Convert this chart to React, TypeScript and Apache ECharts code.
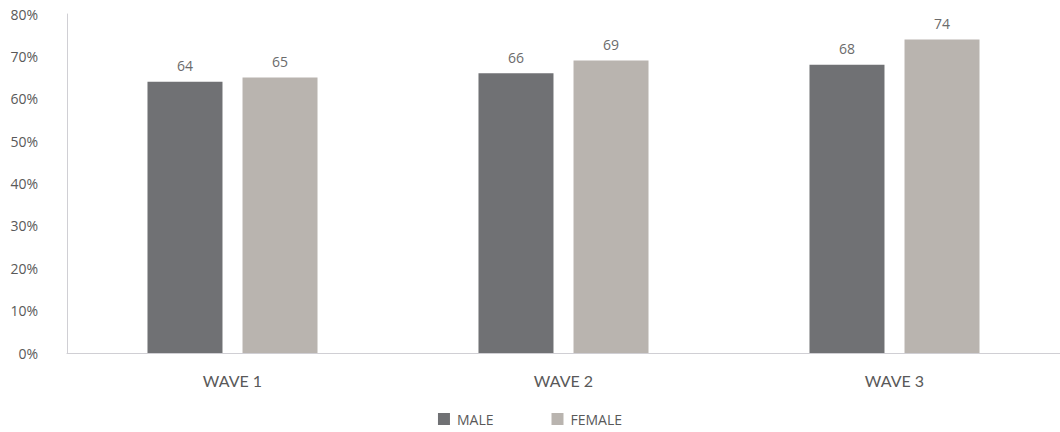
import React, { useEffect, useRef } from "react";
import * as echarts from "echarts";

const waves = ["WAVE 1", "WAVE 2", "WAVE 3"];
const male = [64, 66, 68];
const female = [65, 69, 74];
const yTicks = [0, 10, 20, 30, 40, 50, 60, 70, 80];

const MALE_COLOR = "#707174";
const FEMALE_COLOR = "#B9B4AF";
const TEXT = "#595959";

export default function App() {
  const ref = useRef<HTMLDivElement>(null);

  useEffect(() => {
    if (!ref.current) return;
    const chart = echarts.init(ref.current, null, { renderer: "svg" });
    const label = {
      show: true,
      position: "top" as const,
      distance: 9,
      color: "#6b6b6b",
      fontFamily: "Open Sans",
      fontSize: 14,
    };
    chart.setOption({
      animation: false,
      grid: { left: 67, top: 14, width: 995, bottom: 79 },
      legend: {
        bottom: 1,
        left: "center",
        itemWidth: 12,
        itemHeight: 12,
        itemGap: 58,
        icon: "rect",
        textStyle: { color: TEXT, fontFamily: "Open Sans", fontSize: 14, padding: [0, 0, 0, 2] },
        data: ["MALE", "FEMALE"],
      },
      xAxis: {
        type: "category",
        data: waves,
        axisLine: { lineStyle: { color: "#D0CFD4", width: 1 } },
        axisTick: { show: false },
        axisLabel: { color: TEXT, fontFamily: "Lato", fontSize: 16, margin: 19 },
      },
      yAxis: {
        type: "value",
        min: yTicks[0],
        max: yTicks[yTicks.length - 1],
        interval: 10,
        axisLine: { show: true, lineStyle: { color: "#D0CFD4", width: 1 } },
        axisTick: { show: false },
        splitLine: { show: false },
        axisLabel: {
          color: TEXT,
          fontFamily: "Open Sans",
          fontSize: 14,
          margin: 29,
          formatter: (v: number) => `${v}%`,
        },
      },
      series: [
        {
          name: "MALE",
          type: "bar",
          data: male,
          barWidth: 75,
          barGap: "26.7%",
          itemStyle: { color: MALE_COLOR },
          label,
        },
        {
          name: "FEMALE",
          type: "bar",
          data: female,
          barWidth: 75,
          itemStyle: { color: FEMALE_COLOR },
          label,
        },
      ],
    });
    return () => chart.dispose();
  }, []);

  return (
    <div
      ref={ref}
      style={{ position: "absolute", left: 0, top: 0, width: 1060, height: 432, background: "#fff" }}
    />
  );
}
